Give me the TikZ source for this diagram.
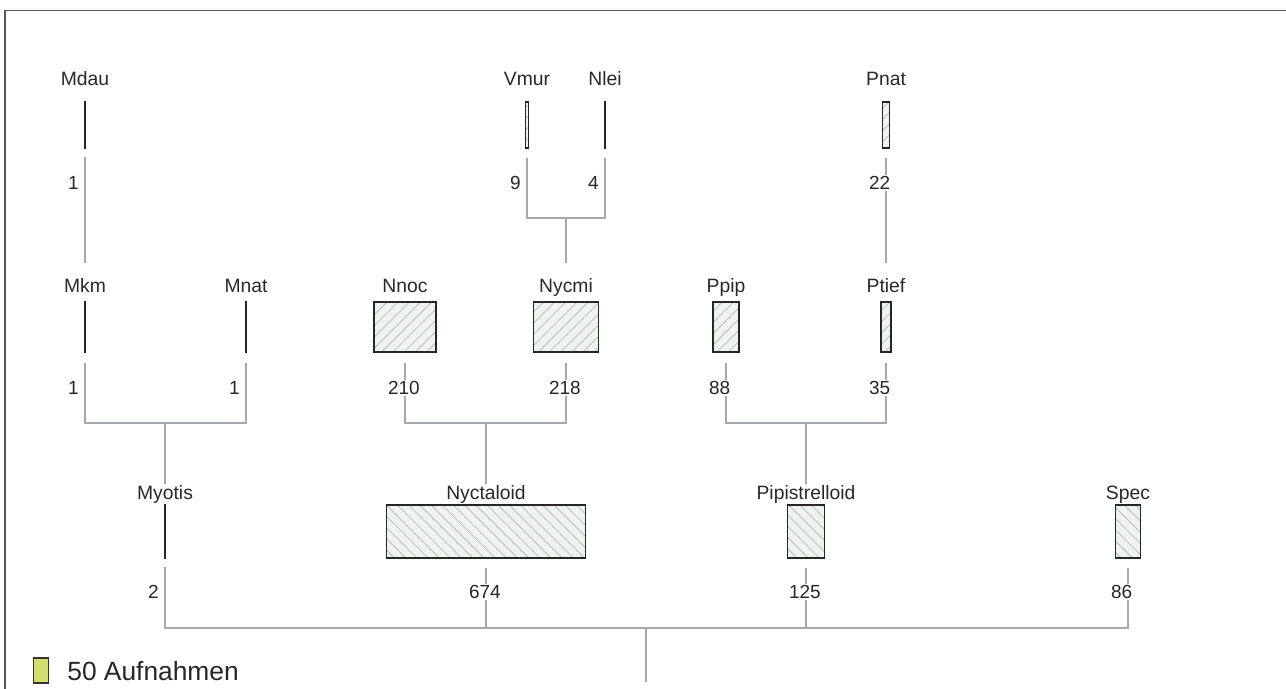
\documentclass[tikz,border=0pt]{standalone}
\usepackage{fontspec}
\setmainfont{Liberation Sans}
\usetikzlibrary{calc, patterns.meta}
\definecolor{linkgray}{RGB}{165,168,172}
\definecolor{boxfill}{RGB}{240,242,240}
\definecolor{hatchgreen}{RGB}{175,194,182}
\definecolor{labeltext}{RGB}{40,40,40}
\definecolor{legendfill}{RGB}{210,222,110}
\definecolor{framegray}{RGB}{85,85,85}

\begin{document}
\begin{tikzpicture}[x=0.02cm, y=-0.02cm,
    taxon/.style={font=\fontsize{11}{13}\selectfont, text=labeltext, inner sep=1pt, anchor=base},
    count/.style={font=\fontsize{10.8}{13}\selectfont, text=black!85, fill=white, inner sep=1pt, anchor=west},
    bar/.style={draw=black!85, line width=0.8pt, inner sep=0pt, minimum width={#1*0.00592cm},
        preaction={fill=boxfill}, pattern={Lines[angle=45,distance=4.5pt,line width=0.45pt]}, pattern color=hatchgreen},
    barb/.style={bar=#1, pattern={Lines[angle=-45,distance=4.5pt,line width=0.45pt]}},
    link/.style={draw=linkgray, line width=0.9pt}]

    \useasboundingbox (0,0) rectangle (1286,689);
    \draw[framegray, line width=0.9pt] (5,689) -- (5,10.5) -- (1286,10.5);

    % top row
    \node[taxon] (mdau) at (85,86) {Mdau};
    \node[taxon] (vmur) at (527,86) {Vmur};
    \node[taxon] (nlei) at (605,86) {Nlei};
    \node[taxon] (pnat) at (886,86) {Pnat};
    \node[bar=1, minimum height=0.92cm] (bmdau) at (85,125) {};
    \node[bar=9, minimum height=0.92cm] (bvmur) at (527,125) {};
    \node[bar=4, minimum height=0.92cm] (bnlei) at (605,125) {};
    \node[bar=22, minimum height=0.92cm] (bpnat) at (886,125) {};

    % middle row
    \node[taxon] (mkm) at (85,293) {Mkm};
    \node[taxon] (mnat) at (246,293) {Mnat};
    \node[taxon] (nnoc) at (405,293) {Nnoc};
    \node[taxon] (nycmi) at (566,293) {Nycmi};
    \node[taxon] (ppip) at (726,293) {Ppip};
    \node[taxon] (ptief) at (886,293) {Ptief};
    \node[bar=1, minimum height=1cm] (bmkm) at (85,327) {};
    \node[bar=1, minimum height=1cm] (bmnat) at (246,327) {};
    \node[bar=210, minimum height=1cm] (bnnoc) at (405,327) {};
    \node[bar=218, minimum height=1cm] (bnycmi) at (566,327) {};
    \node[bar=88, minimum height=1cm] (bppip) at (726,327) {};
    \node[bar=35, minimum height=1cm] (bptief) at (886,327) {};

    % bottom row
    \node[taxon] (myotis) at (165,500) {Myotis};
    \node[taxon] (nyct) at (486,500) {Nyctaloid};
    \node[taxon] (pipis) at (806,500) {Pipistrelloid};
    \node[taxon] (spec) at (1128,500) {Spec};
    \node[barb=2, minimum height=1.06cm] (bmyotis) at (165,531.5) {};
    \node[barb=674, minimum height=1.06cm] (bnyct) at (486,531.5) {};
    \node[barb=125, minimum height=1.06cm] (bpipis) at (806,531.5) {};
    \node[barb=86, minimum height=1.06cm] (bspec) at (1128,531.5) {};

    % joins
    \coordinate (jvn) at (566,218);
    \coordinate (jmy) at (165,423);
    \coordinate (jny) at (486,423);
    \coordinate (jpi) at (806,423);
    \coordinate (jall) at (646,628);
    \coordinate (root) at (646,682);

    % links
    \draw[link] ($(bmdau.south)+(0,9)$) -- ($(mkm.base)+(0,-30)$);
    \draw[link] ($(bvmur.south)+(0,9)$) |- (jvn) -| ($(bnlei.south)+(0,9)$);
    \draw[link] (jvn) -- ($(nycmi.base)+(0,-30)$);
    \draw[link] ($(bpnat.south)+(0,9)$) -- ($(ptief.base)+(0,-30)$);

    \draw[link] ($(bmkm.south)+(0,10)$) |- (jmy) -| ($(bmnat.south)+(0,10)$);
    \draw[link] (jmy) -- ($(myotis.base)+(0,-16)$);
    \draw[link] ($(bnnoc.south)+(0,10)$) |- (jny) -| ($(bnycmi.south)+(0,10)$);
    \draw[link] (jny) -- ($(nyct.base)+(0,-16)$);
    \draw[link] ($(bppip.south)+(0,10)$) |- (jpi) -| ($(bptief.south)+(0,10)$);
    \draw[link] (jpi) -- ($(pipis.base)+(0,-16)$);

    \draw[link] ($(bmyotis.south)+(0,9)$) |- (jall) -| ($(bspec.south)+(0,9)$);
    \draw[link] ($(bnyct.south)+(0,9)$) -- (bnyct |- jall);
    \draw[link] ($(bpipis.south)+(0,9)$) -- (bpipis |- jall);
    \draw[link] (jall) -- (root);

    % counts
    \node[count] (nmdau) at (66,183) {1};
    \node[count] (nvmur) at (508,183) {9};
    \node[count] (nnlei) at (586,183) {4};
    \node[count] (npnat) at (867,183) {22};
    \node[count] (nmkm) at (66,388) {1};
    \node[count] (nmnat) at (227,388) {1};
    \node[count] (nnnoc) at (386,388) {210};
    \node[count] (nnycmi) at (547,388) {218};
    \node[count] (nppip) at (707,388) {88};
    \node[count] (nptief) at (867,388) {35};
    \node[count] (nmyotis) at (146,592) {2};
    \node[count] (nnyct) at (467,592) {674};
    \node[count] (npipis) at (787,592) {125};
    \node[count] (nspec) at (1109,592) {86};

    % legend
    \node[draw=black!80, line width=0.75pt, fill=legendfill, inner sep=0pt,
        minimum width=0.296cm, minimum height=0.5cm] (legbox) at (41,670.5) {};
    \node[font=\fontsize{15}{18}\selectfont, text=black!85, inner sep=0pt, anchor=west] (legtext) at (67,671) {50 Aufnahmen};
\end{tikzpicture}
\end{document}
